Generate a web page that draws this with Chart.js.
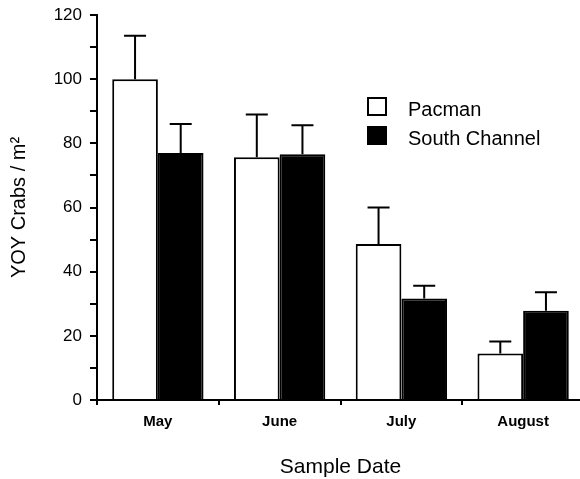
<!DOCTYPE html>
<html>
<head>
<meta charset="utf-8">
<script src="https://cdn.jsdelivr.net/npm/chart.js@4.4.1/dist/chart.umd.min.js"></script>
<style>
    html, body { margin: 0; padding: 0; background: #fff; overflow: hidden; }
    #wrap { width: 586px; height: 479px; }
</style>
</head>
<body>
<div id="wrap"><canvas id="crabChart"></canvas></div>
<script>
// 数据
const months = ['May', 'June', 'July', 'August'];
const pacman = [100, 75.7, 48.6, 14.5];
const pacmanSE = [13.5, 13.3, 11.4, 3.7];
const southChannel = [77, 76.6, 31.6, 27.8];
const southChannelSE = [9, 9, 4, 5.8];
const yTicks = [0, 20, 40, 60, 80, 100, 120];

const FONT = 'Liberation Sans, Arial, Helvetica, sans-serif';

// 误差线（只画上半部分）
const errorBars = {
    id: 'errorBars',
    afterDatasetsDraw(chart) {
        const ctx = chart.ctx;
        const y = chart.scales.y;
        ctx.save();
        ctx.strokeStyle = '#000';
        ctx.lineWidth = 2;
        chart.data.datasets.forEach((ds, i) => {
            const meta = chart.getDatasetMeta(i);
            meta.data.forEach((bar, j) => {
                const top = y.getPixelForValue(ds.data[j] + ds.se[j]);
                ctx.beginPath();
                ctx.moveTo(bar.x, bar.y);
                ctx.lineTo(bar.x, top);
                ctx.moveTo(bar.x - 11, top);
                ctx.lineTo(bar.x + 11, top);
                ctx.stroke();
            });
        });
        ctx.restore();
    }
};

// 图例画在图内右上
const boxLegend = {
    id: 'boxLegend',
    afterDraw(chart) {
        const ctx = chart.ctx;
        ctx.save();
        ctx.font = '20px ' + FONT;
        ctx.textBaseline = 'middle';
        chart.data.datasets.forEach((ds, i) => {
            const top = 98 + i * 29;
            ctx.fillStyle = ds.backgroundColor;
            ctx.fillRect(368, top, 18, 17);
            ctx.strokeStyle = '#000';
            ctx.lineWidth = 2;
            ctx.strokeRect(368, top, 18, 17);
            ctx.fillStyle = '#000';
            ctx.fillText(ds.label, 408, top + 12);
        });
        ctx.restore();
    }
};

const ctx = document.getElementById('crabChart').getContext('2d');
new Chart(ctx, {
    type: 'bar',
    data: {
        labels: months,
        datasets: [
            {
                label: 'Pacman',
                data: pacman,
                se: pacmanSE,
                backgroundColor: '#ffffff',
                borderColor: '#000000',
                borderWidth: 2
            },
            {
                label: 'South Channel',
                data: southChannel,
                se: southChannelSE,
                backgroundColor: '#000000',
                borderColor: '#000000',
                borderWidth: 2
            }
        ]
    },
    options: {
        responsive: true,
        maintainAspectRatio: false,
        animation: false,
        categoryPercentage: 0.75,
        barPercentage: 1,
        layout: { padding: { top: 15, right: 2, bottom: 0, left: 0 } },
        scales: {
            x: {
                grid: {
                    drawOnChartArea: false,
                    color: '#000',
                    lineWidth: 2,
                    tickLength: 5
                },
                border: { color: '#000', width: 2 },
                ticks: {
                    color: '#000',
                    padding: 8,
                    font: { family: FONT, size: 15, weight: 'bold' }
                },
                title: {
                    display: true,
                    text: 'Sample Date',
                    color: '#000',
                    padding: { top: 0, bottom: 0 },
                    font: { family: FONT, size: 21, lineHeight: 1.1 }
                },
                afterFit(scale) { scale.height = 79; }
            },
            y: {
                min: 0,
                max: 120,
                grid: {
                    drawOnChartArea: false,
                    color: '#000',
                    lineWidth: 2,
                    tickLength: 7
                },
                border: { color: '#000', width: 2 },
                ticks: {
                    stepSize: 10,
                    color: '#000',
                    padding: 8,
                    font: { family: FONT, size: 17 },
                    callback: v => yTicks.includes(v) ? v : ''
                },
                title: {
                    display: true,
                    text: 'YOY Crabs / m\u00B2',
                    color: '#000',
                    padding: { top: 7, bottom: 0 },
                    font: { family: FONT, size: 20 }
                },
                afterFit(scale) {
                    scale.width = 97;
                    scale.paddingTop = 0;
                }
            }
        },
        plugins: {
            legend: { display: false },
            tooltip: { enabled: false }
        }
    },
    plugins: [errorBars, boxLegend]
});
</script>
</body>
</html>
